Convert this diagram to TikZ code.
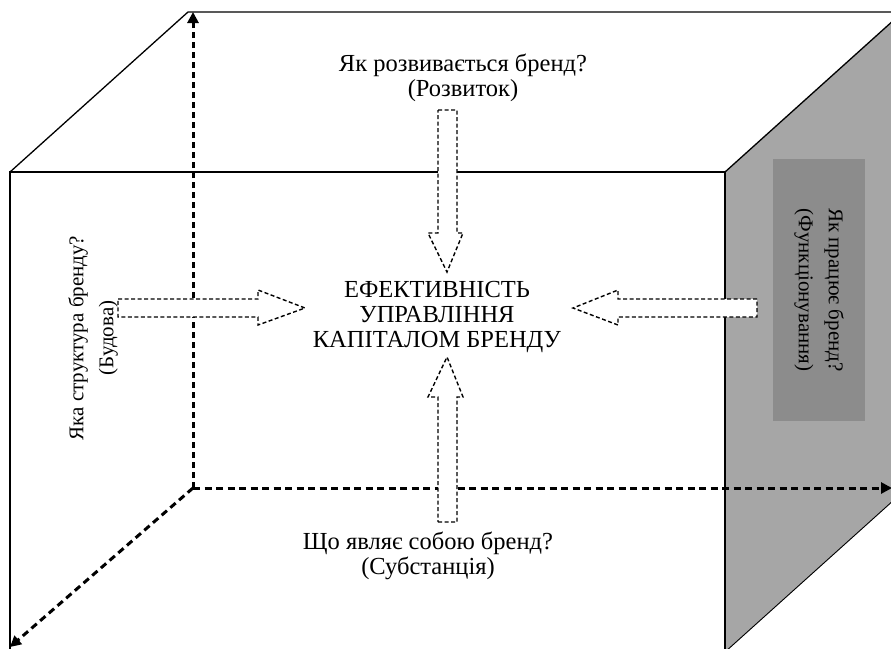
\documentclass[tikz,border=0pt]{standalone}
\usepackage{fontspec}
\setmainfont{Liberation Serif}
\usetikzlibrary{arrows.meta}
\definecolor{facegray}{HTML}{A6A6A6}
\definecolor{boxgray}{HTML}{8C8C8C}
\tikzset{
  edge/.style={line width=1.3pt},
  thinedge/.style={line width=0.9pt},
  axis/.style={line width=3pt, dash pattern=on 7pt off 4.5pt, -{Triangle[length=11pt,width=11pt]}},
  blockarrow/.style={draw, fill=white, line width=1.4pt, dash pattern=on 4pt off 2.5pt},
  txt/.style={align=center, inner sep=0pt, font=\fontsize{24.5}{25}\selectfont},
  sidetxt/.style={align=center, inner sep=0pt, font=\fontsize{21}{30}\selectfont},
}
\begin{document}
\begin{tikzpicture}[x=1pt,y=-1pt]
\useasboundingbox (0,0) rectangle (891,648);
\clip (0,0) rectangle (891,648);
% right face
\fill[facegray] (725,172) -- (905,10) -- (905,490) -- (725,652) -- cycle;
\draw[edge] (725,172) -- (905,10);
\draw[thinedge] (905,490) -- (725,652);
% cube edges
\draw[edge] (10,660) -- (10,172) -- (725,172) -- (725,660);
\draw[edge] (10,172) -- (188,12) -- (905,12);
% axes
\coordinate (o) at (193,488);
\coordinate (up) at (193,12);
\coordinate (rt) at (892,488);
\coordinate (dl) at (10,647);
\draw[axis, dash pattern=on 6pt off 4pt] (o) -- (up);
\draw[axis] (o) -- (rt);
\draw[axis] (o) -- (dl);
% function box
\node[sidetxt, fill=boxgray, rotate=-90, minimum width=262pt, minimum height=92pt] (func) at (819,290) {Як працює бренд?\\(Функціонування)};
% block arrows
\draw[blockarrow] (438,110) -- (457,110) -- (457,233) -- (463,233) -- (447,272) -- (428,233) -- (438,233) -- cycle;
\draw[blockarrow] (438,522) -- (457,522) -- (457,397) -- (463,397) -- (447,357) -- (428,397) -- (438,397) -- cycle;
\draw[blockarrow] (118,299) -- (258,299) -- (258,290) -- (305,308) -- (258,325) -- (258,317) -- (118,317) -- cycle;
\draw[blockarrow] (757,299) -- (618,299) -- (618,290) -- (573,308) -- (618,325) -- (618,317) -- (757,317) -- cycle;
% texts
\node[txt] (top) at (463,78) {Як розвивається бренд?\\(Розвиток)};
\node[txt] (center) at (437,317) {ЕФЕКТИВНІСТЬ\\УПРАВЛІННЯ\\КАПІТАЛОМ БРЕНДУ};
\node[txt] (bottom) at (428,556) {Що являє собою бренд?\\(Субстанція)};
\node[sidetxt, rotate=90] (left) at (93,338) {Яка структура бренду?\\(Будова)};
\end{tikzpicture}
\end{document}
